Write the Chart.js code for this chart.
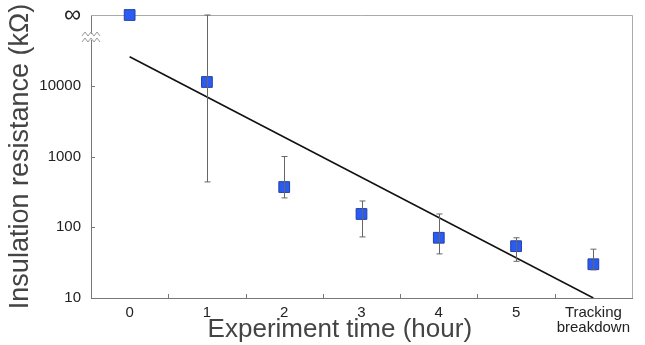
<!DOCTYPE html>
<html>
<head>
<meta charset="utf-8">
<script src="https://cdn.jsdelivr.net/npm/chart.js@4/dist/chart.umd.min.js"></script>
<style>
  html, body { margin: 0; padding: 0; background: #fff; }
  #wrap { width: 645px; height: 345px; position: relative; }
</style>
</head>
<body>
<div id="wrap"><canvas id="chart"></canvas></div>
<script>
const categories = ['0', '1', '2', '3', '4', '5', ['Tracking', 'breakdown']];
const resistance = [100000, 11300, 370, 154, 71, 54, 30];
const errHigh = [null, 100000, 1000, 235, 154, 71, 49];
const errLow = [null, 437, 260, 73, 42, 33, 25];
const trend = [25700, null, null, null, null, null, 10];
const yTicks = [10, 100, 1000, 10000, 100000];

const FONT = '"Liberation Sans", Arial, sans-serif';

// error bars, inner ticks, axis break mark
const extras = {
  id: 'extras',
  afterDatasetsDraw(chart) {
    const ctx = chart.ctx;
    const x = chart.scales.x;
    const y = chart.scales.y;
    ctx.save();
    ctx.strokeStyle = '#666';
    ctx.lineWidth = 1;
    resistance.forEach((v, i) => {
      if (errHigh[i] == null) return;
      const px = Math.round(x.getPixelForValue(i)) + 0.5;
      const top = y.getPixelForValue(errHigh[i]);
      const bot = y.getPixelForValue(errLow[i]);
      ctx.beginPath();
      ctx.moveTo(px, top); ctx.lineTo(px, bot);
      ctx.moveTo(px - 3, top); ctx.lineTo(px + 3, top);
      ctx.moveTo(px - 3, bot); ctx.lineTo(px + 3, bot);
      ctx.stroke();
    });
    ctx.restore();
  },
  afterDraw(chart) {
    const ctx = chart.ctx;
    const x = chart.scales.x;
    const y = chart.scales.y;
    const area = chart.chartArea;
    ctx.save();
    ctx.strokeStyle = '#777';
    ctx.lineWidth = 1;
    ctx.beginPath();
    const step = x.getPixelForValue(1) - x.getPixelForValue(0);
    for (let i = 0; i < categories.length - 1; i++) {
      const px = Math.round(x.getPixelForValue(i) + step / 2) + 0.5;
      ctx.moveTo(px, area.bottom); ctx.lineTo(px, area.bottom - 4);
    }
    [100, 1000, 10000].forEach((t) => {
      const py = Math.round(y.getPixelForValue(t)) + 0.5;
      ctx.moveTo(area.left, py); ctx.lineTo(area.left + 4, py);
    });
    ctx.stroke();

    // break mark on the y axis
    const by = area.top + 22;
    const bx = area.left;
    ctx.fillStyle = '#fff';
    ctx.fillRect(bx - 2, by - 3, 4, 6);
    ctx.strokeStyle = '#999';
    [-3, 3].forEach((d) => {
      ctx.beginPath();
      ctx.moveTo(bx - 9, by + d + 2);
      ctx.lineTo(bx - 6, by + d - 2);
      ctx.lineTo(bx - 3, by + d + 2);
      ctx.lineTo(bx, by + d - 2);
      ctx.lineTo(bx + 3, by + d + 2);
      ctx.lineTo(bx + 6, by + d - 2);
      ctx.lineTo(bx + 9, by + d + 2);
      ctx.stroke();
    });
    ctx.restore();
  }
};

new Chart(document.getElementById('chart'), {
  type: 'line',
  data: {
    labels: categories,
    datasets: [
      {
        label: 'Trend',
        data: trend,
        borderColor: '#111',
        borderWidth: 1.6,
        pointRadius: 0,
        spanGaps: true,
        fill: false,
        order: 2,
      },
      {
        label: 'Insulation resistance',
        data: resistance,
        showLine: false,
        pointStyle: 'rect',
        pointRadius: 7.6,
        pointBackgroundColor: '#2b5cf2',
        pointBorderColor: '#2440a8',
        pointBorderWidth: 1,
        clip: false,
        order: 1,
      },
    ],
  },
  options: {
    responsive: true,
    maintainAspectRatio: false,
    animation: false,
    layout: { padding: { top: 15, right: 13, left: 0, bottom: 0 } },
    plugins: {
      legend: { display: false },
      tooltip: { enabled: false },
    },
    scales: {
      x: {
        type: 'category',
        offset: true,
        grid: { display: false, drawTicks: false },
        border: { display: true, color: '#777', width: 1 },
        ticks: {
          color: '#222',
          font: { family: FONT, size: 15, lineHeight: 1.0 },
          padding: 7,
          maxRotation: 0,
          autoSkip: false,
        },
        title: {
          display: true,
          text: 'Experiment time (hour)      ',
          color: '#444',
          font: { family: FONT, size: 26 },
          padding: { top: 0, bottom: 0 },
        },
        afterFit(scale) { scale.height = 47; },
      },
      y: {
        type: 'logarithmic',
        min: 10,
        max: 100000,
        grid: { display: false, drawTicks: false },
        border: { display: true, color: '#777', width: 1 },
        afterBuildTicks(scale) {
          scale.ticks = yTicks.map((v) => ({ value: v }));
        },
        ticks: {
          color: '#222',
          font: (c) => ({ family: FONT, size: c.tick && c.tick.value === 100000 ? 24 : 15 }),
          padding: 10,
          callback: (v) => (v === 100000 ? '∞' : String(v)),
        },
        title: {
          display: true,
          text: 'Insulation resistance (kΩ)',
          color: '#444',
          font: { family: FONT, size: 27 },
          padding: { top: 4, bottom: 0 },
        },
        afterFit(scale) {
          scale.width = 91;
          scale.paddingTop = 0;
          scale.paddingBottom = 0;
        },
      },
    },
  },
  plugins: [extras, {
    id: 'frame',
    beforeDatasetsDraw(chart) {
      const a = chart.chartArea;
      const ctx = chart.ctx;
      ctx.save();
      ctx.strokeStyle = '#aaa';
      ctx.lineWidth = 1;
      ctx.beginPath();
      ctx.moveTo(a.left, a.top + 0.5); ctx.lineTo(a.right + 0.5, a.top + 0.5);
      ctx.lineTo(a.right + 0.5, a.bottom);
      ctx.stroke();
      ctx.restore();
    }
  }],
});
</script>
</body>
</html>
